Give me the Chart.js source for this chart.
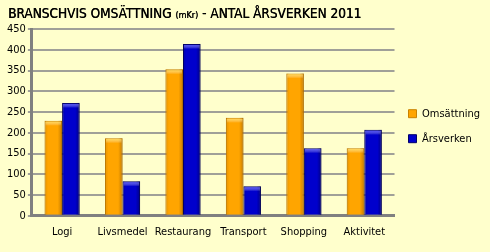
<!DOCTYPE html>
<html>
<head>
<meta charset="utf-8">
<script src="https://cdn.jsdelivr.net/npm/chart.js@4/dist/chart.umd.min.js"></script>
<style>
  html, body { margin: 0; padding: 0; background: #FFFFCC; }
  #wrap { width: 490px; height: 252px; }
</style>
</head>
<body>
<div id="wrap"><canvas id="chart" width="490" height="252"></canvas></div>
<script>
const categories = ['Logi', 'Livsmedel', 'Restaurang', 'Transport', 'Shopping', 'Aktivitet'];
const omsattning = [229, 187, 353, 236, 343, 163];
const arsverken = [272, 83, 414, 71, 163, 207];
const yTicks = [0, 50, 100, 150, 200, 250, 300, 350, 400, 450];

const FONT = "'DejaVu Sans Condensed', 'DejaVu Sans', sans-serif";

// title with the small "(mKr)" part, drawn by hand
const titlePlugin = {
  id: 'mixedTitle',
  beforeDraw(chart) {
    const c = chart.ctx;
    c.save();
    c.fillStyle = '#FFFFCC';
    c.fillRect(0, 0, chart.width, chart.height);
    c.fillStyle = '#000';
    c.textBaseline = 'alphabetic';
    let x = 8;
    const parts = [
      ['BRANSCHVIS OMSÄTTNING ', '13.5px ' + FONT],
      ['(mKr)', '9px ' + FONT],
      [' - ANTAL ÅRSVERKEN 2011', '13.5px ' + FONT]
    ];
    parts.forEach(([t, f]) => {
      c.font = f;
      c.fillText(t, x, 18);
      c.fillText(t, x + 0.4, 18); // a bit heavier
      x += c.measureText(t).width;
    });
    c.restore();
  }
};

// 3d-ish shading over the bars, using the bar geometry from chart.js
const shadePlugin = {
  id: 'barShade',
  afterDatasetsDraw(chart) {
    const c = chart.ctx;
    const caps = ['rgba(255,225,80,0.9)', 'rgba(70,70,255,0.9)'];
    const edges = ['rgba(150,90,0,', 'rgba(0,0,70,'];
    chart.data.datasets.forEach((ds, di) => {
      chart.getDatasetMeta(di).data.forEach(bar => {
        const w = bar.width, l = bar.x - w / 2, t = bar.y, h = bar.base - bar.y;
        const g = c.createLinearGradient(l, 0, l + w, 0);
        g.addColorStop(0, edges[di] + '0.25)');
        g.addColorStop(0.2, edges[di] + '0)');
        g.addColorStop(0.75, edges[di] + '0)');
        g.addColorStop(1, edges[di] + '0.55)');
        c.save();
        c.fillStyle = g;
        c.fillRect(l, t, w, h);
        const cg = c.createLinearGradient(0, t, 0, t + 5);
        cg.addColorStop(0, caps[di]);
        cg.addColorStop(1, 'rgba(255,255,255,0)');
        c.fillStyle = cg;
        c.fillRect(l + 1, t + 1, w - 2, 5);
        c.restore();
      });
    });
  }
};

new Chart(document.getElementById('chart'), {
  type: 'bar',
  data: {
    labels: categories,
    datasets: [
      {
        label: 'Omsättning',
        data: omsattning,
        backgroundColor: '#FFA500',
        borderColor: '#C98200',
        borderWidth: 1,
        barPercentage: 1.0,
        categoryPercentage: 0.58
      },
      {
        label: 'Årsverken',
        data: arsverken,
        backgroundColor: '#0000CC',
        borderColor: '#00006A',
        borderWidth: 1,
        barPercentage: 1.0,
        categoryPercentage: 0.58
      }
    ]
  },
  options: {
    responsive: false,
    animation: false,
    layout: { padding: { top: 29, left: 5, right: 0, bottom: 11 } },
    scales: {
      x: {
        grid: { display: false },
        border: { color: '#808080', width: 3 },
        ticks: {
          color: '#000', font: { family: FONT, size: 11 }, padding: 2,
          maxRotation: 0, minRotation: 0, autoSkip: false
        }
      },
      y: {
        min: 0,
        max: 450,
        afterBuildTicks: axis => { axis.ticks = yTicks.map(v => ({ value: v })); },
        grid: { color: '#A0A098', lineWidth: 2, tickLength: 4 },
        border: { color: '#808080', width: 3 },
        ticks: { color: '#000', font: { family: FONT, size: 11 }, padding: 2 }
      }
    },
    plugins: {
      title: { display: false },
      tooltip: { enabled: false },
      legend: {
        position: 'right',
        align: 'start',
        // empty legend title only used as a spacer to push the items down
        title: { display: true, text: '', font: { size: 1 }, padding: { top: 64, bottom: 0 } },
        labels: {
          boxWidth: 8,
          boxHeight: 8,
          padding: 14,
          color: '#000',
          font: { family: FONT, size: 11 }
        }
      }
    }
  },
  plugins: [titlePlugin, shadePlugin]
});
</script>
</body>
</html>
